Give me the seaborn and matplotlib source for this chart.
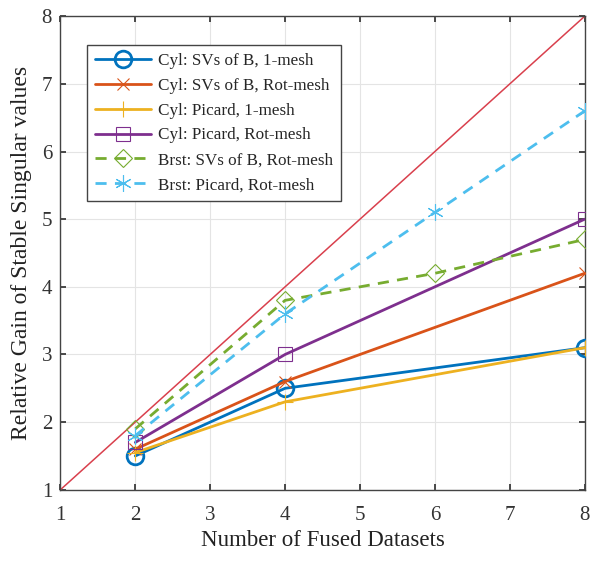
import matplotlib
matplotlib.use("Agg")
import matplotlib.pyplot as plt
import seaborn as sns
import pandas as pd

x_cyl = [2, 4, 8]
x_brst = [2, 4, 6, 8]
cyl_svs_1mesh = [1.5, 2.5, 3.1]
cyl_svs_rot = [1.6, 2.6, 4.2]
cyl_picard_1mesh = [1.55, 2.3, 3.1]
cyl_picard_rot = [1.7, 3.0, 5.0]
brst_svs_rot = [1.9, 3.8, 4.2, 4.7]
brst_picard_rot = [1.8, 3.6, 5.1, 6.6]
ideal_x = [1, 8]
ideal_y = [1, 8]

labels = ["Cyl: SVs of B, 1-mesh", "Cyl: SVs of B, Rot-mesh", "Cyl: Picard, 1-mesh",
          "Cyl: Picard, Rot-mesh", "Brst: SVs of B, Rot-mesh", "Brst: Picard, Rot-mesh"]
series = [(x_cyl, cyl_svs_1mesh), (x_cyl, cyl_svs_rot), (x_cyl, cyl_picard_1mesh),
          (x_cyl, cyl_picard_rot), (x_brst, brst_svs_rot), (x_brst, brst_picard_rot)]
colors = [(0, 0.447, 0.741), (0.85, 0.325, 0.098), (0.929, 0.694, 0.125),
          (0.494, 0.184, 0.556), (0.466, 0.674, 0.188), (0.301, 0.745, 0.933)]
markers = ["o", "x", "+", "s", "D", (6, 2, 0)]
msizes = [12, 9, 12, 10, 9, 12]
mews = [2, 0.8, 0.8, 0.8, 0.8, 0.8]
dashed = [False, False, False, False, True, True]

sns.set_theme(style="whitegrid")
plt.rcParams['font.family'] = ['Liberation Serif', 'DejaVu Serif']

fig, ax = plt.subplots(figsize=(6.04, 5.61), dpi=100)
fig.subplots_adjust(left=0.1, right=0.968, top=0.971, bottom=0.127)

sns.lineplot(x=ideal_x, y=ideal_y, ax=ax, color=(0.85, 0.25, 0.3), linewidth=1.1, zorder=1)

for (xs, ys), lab, c, m, ms, mw, d in zip(series, labels, colors, markers, msizes, mews, dashed):
    df = pd.DataFrame({"x": xs, "y": ys})
    sns.lineplot(data=df, x="x", y="y", ax=ax, color=c, linewidth=2,
                 linestyle=(0, (4, 3)) if d else "-", marker=m, markersize=ms,
                 markeredgewidth=mw, markerfacecolor="none", markeredgecolor=c,
                 label=lab, zorder=3)

ax.set_xlim(1, 8)
ax.set_ylim(1, 8)
ax.set_xticks(range(1, 9))
ax.set_yticks(range(1, 9))
ax.set_xlabel("Number of Fused Datasets", fontsize=16.5, color="#222222", labelpad=3)
ax.set_ylabel("Relative Gain of Stable Singular values", fontsize=17, color="#222222", labelpad=7)
ax.tick_params(axis="both", direction="in", length=4, labelsize=15, colors="#333333",
               bottom=True, left=True, right=True, top=True)
ax.tick_params(axis="x", pad=12)
ax.tick_params(axis="y", pad=6)
ax.grid(True, color="#e4e4e4", linewidth=0.8)
for sp in ax.spines.values():
    sp.set_color("#444444")
    sp.set_linewidth(1)
ax.set_facecolor("white")

leg = ax.legend(loc="upper left", bbox_to_anchor=(0.051, 0.939), borderaxespad=0,
                fontsize=12.3, frameon=True,
                fancybox=False, edgecolor="#444444", framealpha=1, handlelength=3.3,
                borderpad=0.45, labelspacing=0.52, handletextpad=0.4)
leg.get_frame().set_linewidth(1)

fig.savefig("out.png", dpi=100)
